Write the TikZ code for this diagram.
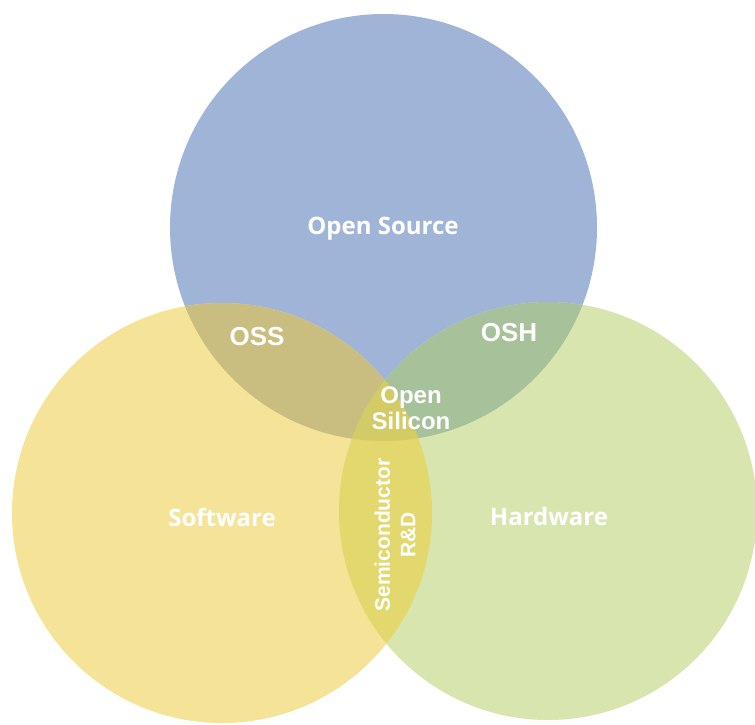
\documentclass[tikz,border=0pt]{standalone}
\usepackage{fontspec}
\setmainfont{Liberation Sans}
\newfontfamily\osans{Open Sans}
\definecolor{colB}{HTML}{9FB4D7}
\definecolor{colY}{HTML}{F5E397}
\definecolor{colG}{HTML}{D9E5AE}
\definecolor{colBY}{HTML}{C9BE80}
\definecolor{colBG}{HTML}{A7C29B}
\definecolor{colYG}{HTML}{E3D86E}
\definecolor{colBYG}{HTML}{D3CB66}
\begin{document}
\begin{tikzpicture}[x=1pt,y=-1pt,
  lbl/.style={text=white,align=center,inner sep=0pt},
  arialfont/.style={font=\bfseries\fontsize{#1}{25.5}\selectfont},
  opensfont/.style={font=\osans\bfseries\fontsize{#1}{26}\selectfont}]
\useasboundingbox (0,0) rectangle (755,724);
\fill[white] (0,0) rectangle (755,724);
\def\circB{(383.5,227.5) circle (213.5pt)}
\def\circY{(222,513) circle (210pt)}
\def\circG{(548,511) circle (209pt)}
\fill[colB] \circB;
\fill[colY] \circY;
\fill[colG] \circG;
\begin{scope}
  \clip \circB;
  \fill[colBY] \circY;
  \fill[colBG] \circG;
\end{scope}
\begin{scope}
  \clip \circY;
  \fill[colYG] \circG;
\end{scope}
\begin{scope}
  \clip \circB;
  \clip \circY;
  \fill[colBYG] \circG;
\end{scope}
\node[lbl,opensfont=24] (os) at (383,229) {Open Source};
\node[lbl,opensfont=24] (sw) at (222,517) {Software};
\node[lbl,opensfont=24] (hw) at (549,516) {Hardware};
\node[lbl,arialfont=26] (oss) at (257,337) {OSS};
\node[lbl,arialfont=26] (osh) at (509,333) {OSH};
\node[lbl,arialfont=24] (osi) at (411,408) {Open\\Silicon};
\node[lbl,arialfont=21,rotate=90] (rd) at (395,535) {Semiconductor\\R\&D};
\end{tikzpicture}
\end{document}
